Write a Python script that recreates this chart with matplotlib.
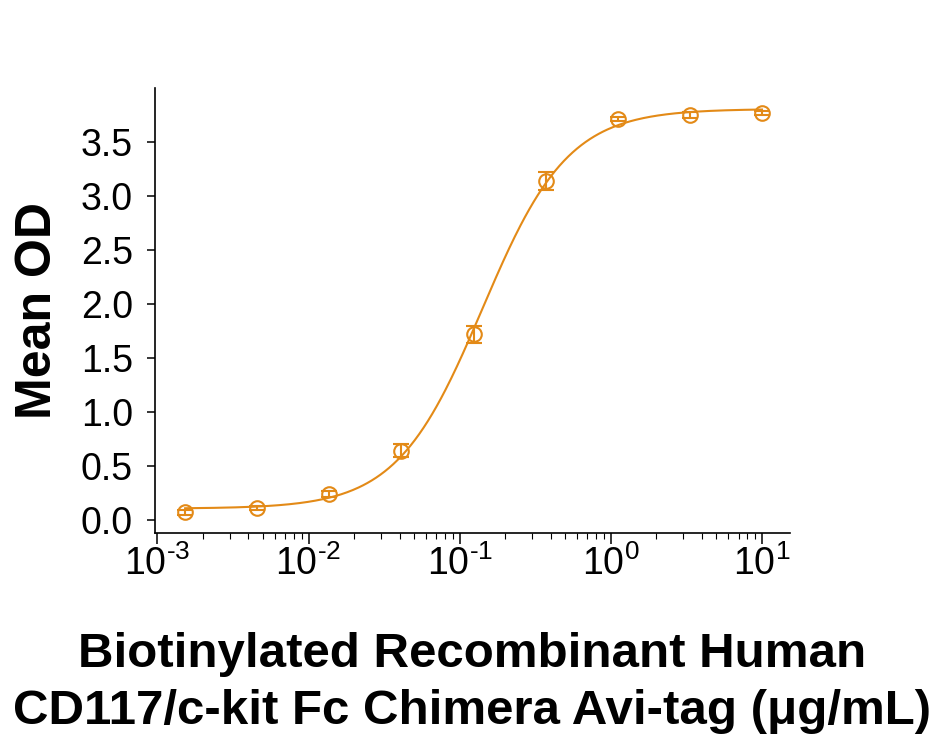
import numpy as np
import matplotlib
matplotlib.use("Agg")
import matplotlib.pyplot as plt
from matplotlib.ticker import LogLocator, NullFormatter, FixedLocator

plt.rcParams["font.family"] = ["Liberation Sans", "DejaVu Sans"]
plt.rcParams["mathtext.default"] = "regular"

ORANGE = "#e38a17"

# 3-fold dilution series (ug/mL) and mean OD
conc = [0.001524, 0.004572, 0.01372, 0.04115, 0.1235, 0.3704, 1.111, 3.333, 10.0]
mean_od = [0.07, 0.11, 0.24, 0.64, 1.72, 3.14, 3.71, 3.75, 3.77]
od_err = [0.02, 0.02, 0.03, 0.06, 0.08, 0.08, 0.02, 0.03, 0.02]

x_ticks = [1e-3, 1e-2, 1e-1, 1e0, 1e1]
x_ticklabels = ["$10^{\u20103}$", "$10^{\u20102}$", "$10^{\u20101}$", "$10^{0}$", "$10^{1}$"]
y_ticks = [0.0, 0.5, 1.0, 1.5, 2.0, 2.5, 3.0, 3.5]


def fit_4pl(x, y):
    # grid over EC50 / Hill, bottom and top solved by least squares
    x = np.asarray(x); y = np.asarray(y)
    best = None
    for lec in np.linspace(-2, 0, 201):
        for h in np.linspace(0.8, 2.5, 171):
            r = (x / 10 ** lec) ** h
            s = r / (1 + r)
            A = np.column_stack([1 - s, s])
            coef, *_ = np.linalg.lstsq(A, y, rcond=None)
            err = np.sum((A @ coef - y) ** 2)
            if best is None or err < best[0]:
                best = (err, coef[0], coef[1], 10 ** lec, h)
    return best[1:]


bottom, top, ec50, hill = fit_4pl(conc, mean_od)
xs = np.logspace(np.log10(conc[0]), np.log10(conc[-1]), 400)
rs = (xs / ec50) ** hill
ys = bottom + (top - bottom) * rs / (1 + rs)

fig = plt.figure(figsize=(9.43, 7.42), dpi=100)
ax = fig.add_axes([0.1644, 0.2817, 0.6733, 0.5997])

ax.plot(xs, ys, color=ORANGE, lw=1.5, zorder=2)
ax.errorbar(conc, mean_od, yerr=od_err, fmt="o", ms=10.5, mfc="none", mec=ORANGE,
            mew=1.5, ecolor=ORANGE, elinewidth=1.5, capsize=6, capthick=1.5, zorder=3)

ax.set_xscale("log")
ax.set_xlim(10 ** -3.016, 10 ** 1.185)
ax.set_ylim(-0.12, 4.0)

ax.xaxis.set_major_locator(FixedLocator(x_ticks))
ax.set_xticklabels(x_ticklabels)
ax.xaxis.set_minor_locator(LogLocator(base=10, subs=np.arange(2, 10), numticks=20))
ax.xaxis.set_minor_formatter(NullFormatter())
ax.set_yticks(y_ticks)
ax.set_yticklabels([f"{v:.1f}" for v in y_ticks])

for s in ("top", "right"):
    ax.spines[s].set_visible(False)
for s in ("left", "bottom"):
    ax.spines[s].set_linewidth(1.2)

ax.tick_params(axis="y", which="major", direction="out", length=6, width=1.1,
               labelsize=27, pad=10)
ax.tick_params(axis="x", which="major", direction="out", length=8, width=1.1,
               labelsize=27, pad=1)
ax.tick_params(axis="x", which="minor", direction="out", length=4, width=0.8)

ax.set_ylabel("Mean OD", fontsize=36, fontweight="bold", labelpad=14)
ax.set_xlabel("Biotinylated Recombinant Human\nCD117/c-kit Fc Chimera Avi-tag (μg/mL)",
              fontsize=35.5, fontweight="bold", labelpad=35, linespacing=1.34)

fig.savefig("out.png", dpi=100)
